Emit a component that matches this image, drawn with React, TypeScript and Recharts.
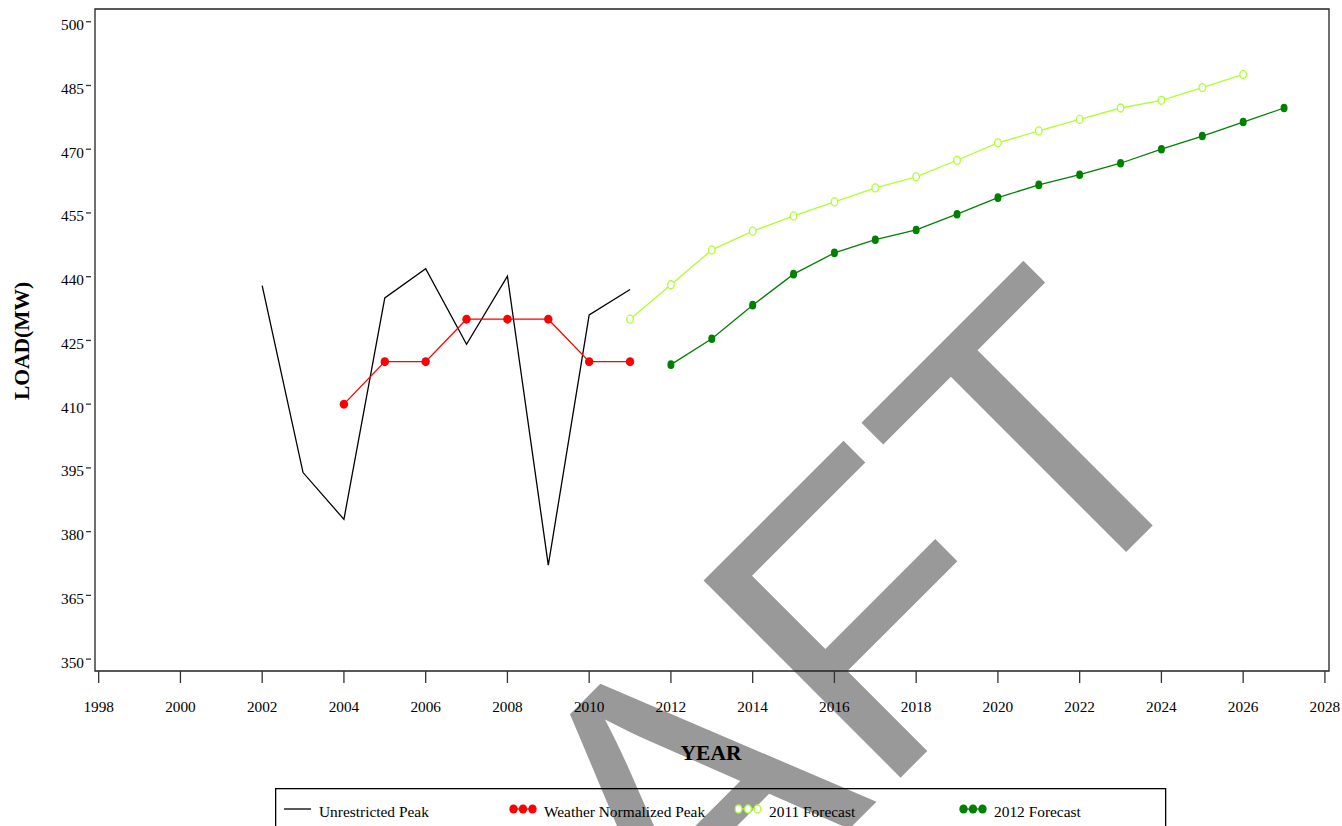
import React from 'react';
import { LineChart, Line, XAxis, YAxis, ReferenceArea } from 'recharts';

// years on the category axis
const years = [
  2002, 2003, 2004, 2005, 2006, 2007, 2008, 2009, 2010, 2011, 2012, 2013, 2014,
  2015, 2016, 2017, 2018, 2019, 2020, 2021, 2022, 2023, 2024, 2025, 2026, 2027,
];

// 2002 - 2011
const unrestrictedPeak = [437.9, 393.9, 382.9, 435.0, 441.9, 424.1, 440.1, 372.1, 431.0, 437.0];
// 2004 - 2011
const weatherNormalizedPeak = [410, 420, 420, 430, 430, 430, 420, 420];
// 2011 - 2026
const forecast2011 = [
  430.0, 438.1, 446.3, 450.7, 454.3, 457.6, 460.9, 463.5, 467.4, 471.5, 474.3,
  477.0, 479.7, 481.5, 484.5, 487.6,
];
// 2012 - 2027
const forecast2012 = [
  419.3, 425.4, 433.3, 440.6, 445.6, 448.7, 451.0, 454.7, 458.6, 461.6, 464.0,
  466.7, 470.0, 473.1, 476.4, 479.7,
];

const xTicks = [1998, 2000, 2002, 2004, 2006, 2008, 2010, 2012, 2014, 2016, 2018, 2020, 2022, 2024, 2026, 2028];
const yTicks = [350, 365, 380, 395, 410, 425, 440, 455, 470, 485, 500];

const X_DOMAIN: [number, number] = [1997.91, 2028.1];
const Y_DOMAIN: [number, number] = [347.2, 503];

const SERIF = '"Liberation Serif", "Times New Roman", serif';
const RED = '#ff0000';
const LIGHT_GREEN = '#adff2f';
const DARK_GREEN = '#008000';

const valueFor = (values: number[], startYear: number, year: number) => {
  const i = year - startYear;
  return i >= 0 && i < values.length ? values[i] : null;
};

const data = years.map((year) => ({
  year,
  unrestricted: valueFor(unrestrictedPeak, 2002, year),
  weatherNormalized: valueFor(weatherNormalizedPeak, 2004, year),
  f2011: valueFor(forecast2011, 2011, year),
  f2012: valueFor(forecast2012, 2012, year),
}));

const filledDot = (color: string, rx: number, ry: number) => (props: any) => {
  const { cx, cy, index } = props;
  if (cx == null || cy == null) return <g key={index} />;
  return <ellipse key={index} cx={cx} cy={cy} rx={rx} ry={ry} fill={color} />;
};

const openDot = (color: string) => (props: any) => {
  const { cx, cy, index } = props;
  if (cx == null || cy == null) return <g key={index} />;
  return <ellipse key={index} cx={cx} cy={cy} rx={3.3} ry={4} fill="#fff" stroke={color} strokeWidth={1.3} />;
};

const XTick = (props: any) => {
  const { x, y, payload } = props;
  return (
    <g>
      <line x1={x} x2={x} y1={y} y2={y + 12} stroke="#333" strokeWidth={1.3} />
      <text x={x} y={y + 41} textAnchor="middle" fontFamily={SERIF} fontSize={15.3} fill="#000">
        {payload.value}
      </text>
    </g>
  );
};

const YTick = (props: any) => {
  const { x, y, payload } = props;
  return (
    <g>
      <line x1={x + 2} x2={x + 7} y1={y} y2={y} stroke="#333" strokeWidth={1.3} />
      <text x={x} y={y + 8.5} textAnchor="end" fontFamily={SERIF} fontSize={15.3} fill="#000">
        {payload.value}
      </text>
    </g>
  );
};

const legendItems = [
  { label: 'Unrestricted Peak', color: '#000', marker: 'none' },
  { label: 'Weather Normalized Peak', color: RED, marker: 'filled' },
  { label: '2011 Forecast', color: LIGHT_GREEN, marker: 'open' },
  { label: '2012 Forecast', color: DARK_GREEN, marker: 'filled' },
];

function ChartLegend() {
  return (
    <svg
      width={892}
      height={38}
      style={{ position: 'absolute', left: 275, top: 788, overflow: 'hidden' }}
    >
      <rect x={0.65} y={0.65} width={890} height={80} fill="none" stroke="#000" strokeWidth={1.3} />
      {legendItems.map((item, i) => {
        const base = 9 + i * 225;
        return (
          <g key={item.label}>
            {item.marker === 'none' ? (
              <line x1={base} x2={base + 27} y1={21} y2={21} stroke="#000" strokeWidth={1.3} />
            ) : (
              <g>
                <line x1={base + 4.5} x2={base + 23.5} y1={21} y2={21} stroke={item.color} strokeWidth={1.3} />
                {[4.5, 14, 23.5].map((dx) =>
                  item.marker === 'filled' ? (
                    <ellipse key={dx} cx={base + dx} cy={21} rx={4.2} ry={4.5} fill={item.color} />
                  ) : (
                    <ellipse key={dx} cx={base + dx} cy={21} rx={3.3} ry={4} fill="#fff" stroke={item.color} strokeWidth={1.3} />
                  )
                )}
              </g>
            )}
            <text x={base + 35} y={28.5} fontFamily={SERIF} fontSize={15.4} fill="#000">
              {item.label}
            </text>
          </g>
        );
      })}
    </svg>
  );
}

export default function App() {
  return (
    <div style={{ position: 'absolute', left: 0, top: 0, width: 1342, height: 826, overflow: 'hidden', background: '#fff' }}>
      {/* watermark sits behind the chart */}
      <svg width={1342} height={826} style={{ position: 'absolute', left: 0, top: 0 }}>
        <text
          x={749.7}
          y={928.5}
          textAnchor="middle"
          fontFamily='"Liberation Sans", Arial, sans-serif'
          fontSize={405}
          fill="#999999"
          transform="rotate(-45 749.7 928.5)"
        >
          DRAFT
        </text>
      </svg>
      <div style={{ position: 'absolute', left: 0, top: 0 }}>
        <LineChart width={1342} height={826} data={data} margin={{ top: 9, right: 13, left: 0, bottom: 0 }}>
          <XAxis
            dataKey="year"
            type="number"
            domain={X_DOMAIN}
            ticks={xTicks}
            allowDataOverflow
            height={155}
            axisLine={false}
            tickLine={false}
            tickSize={0}
            tickMargin={0}
            tick={<XTick />}
            interval={0}
          />
          <YAxis
            type="number"
            domain={Y_DOMAIN}
            ticks={yTicks}
            allowDataOverflow
            width={95}
            axisLine={false}
            tickLine={false}
            tickSize={9}
            tickMargin={2}
            tick={<YTick />}
            interval={0}
          />
          <ReferenceArea
            x1={X_DOMAIN[0]}
            x2={X_DOMAIN[1]}
            y1={Y_DOMAIN[0]}
            y2={Y_DOMAIN[1]}
            fill="none"
            stroke="#222"
            strokeWidth={1.3}
            fillOpacity={0}
          />
          <Line
            dataKey="unrestricted"
            stroke="#000"
            strokeWidth={1.3}
            dot={false}
            activeDot={false}
            isAnimationActive={false}
          />
          <Line
            dataKey="weatherNormalized"
            stroke={RED}
            strokeWidth={1.3}
            dot={filledDot(RED, 4.2, 4.5)}
            activeDot={false}
            isAnimationActive={false}
          />
          <Line
            dataKey="f2011"
            stroke={LIGHT_GREEN}
            strokeWidth={1.3}
            dot={openDot(LIGHT_GREEN)}
            activeDot={false}
            isAnimationActive={false}
          />
          <Line
            dataKey="f2012"
            stroke={DARK_GREEN}
            strokeWidth={1.3}
            dot={filledDot(DARK_GREEN, 3.5, 4.3)}
            activeDot={false}
            isAnimationActive={false}
          />
          <text x={711} y={760} textAnchor="middle" fontFamily={SERIF} fontSize={21.5} fontWeight="bold" fill="#000">
            YEAR
          </text>
          <text
            x={28.5}
            y={341}
            textAnchor="middle"
            fontFamily={SERIF}
            fontSize={21.5}
            fontWeight="bold"
            fill="#000"
            transform="rotate(-90 28.5 341)"
          >
            LOAD(MW)
          </text>
        </LineChart>
      </div>
      <ChartLegend />
    </div>
  );
}
